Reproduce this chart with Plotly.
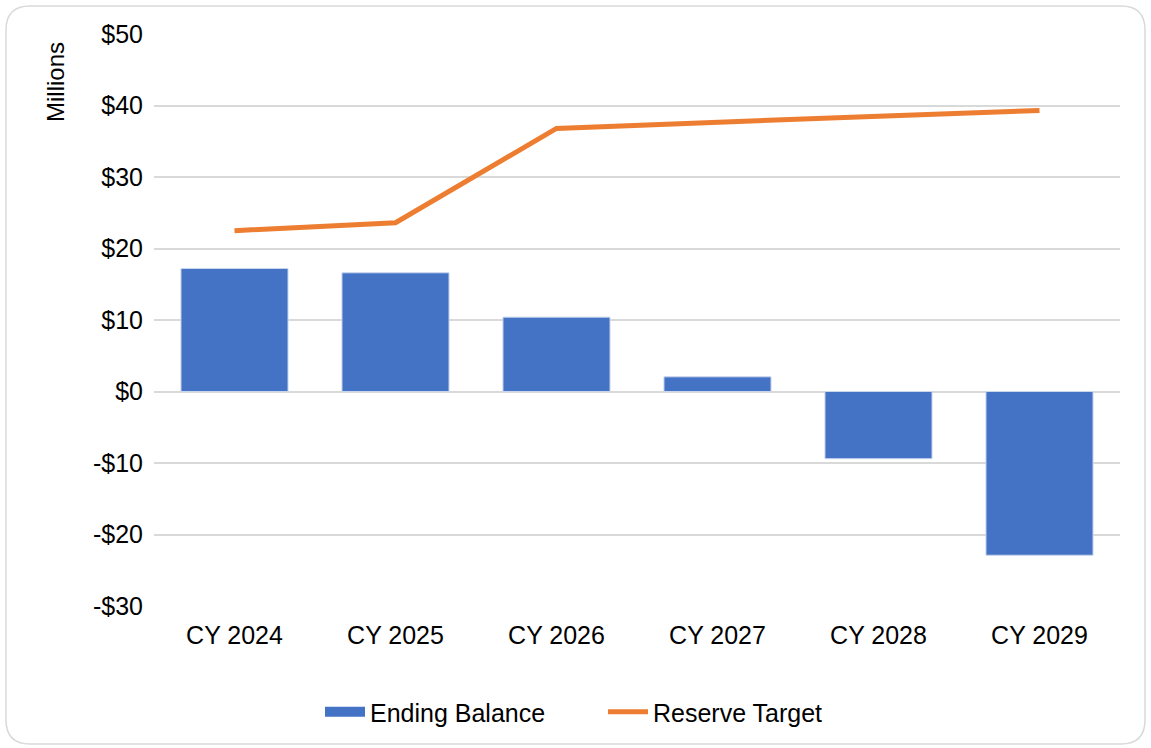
import plotly.graph_objects as go

years = ["CY 2024", "CY 2025", "CY 2026", "CY 2027", "CY 2028", "CY 2029"]
ending_balance = [17.2, 16.6, 10.4, 2.05, -9.4, -22.9]
reserve_target = [22.5, 23.6, 36.8, 37.7, 38.5, 39.3]
tick_vals = [50, 40, 30, 20, 10, 0, -10, -20, -30]
tick_text = ["$50", "$40", "$30", "$20", "$10", "$0", "-$10", "-$20", "-$30"]

W, H = 1151, 748
L, R, T, B = 154, 31, 34, 142
pw, ph = W - L - R, H - T - B

fig = go.Figure()
fig.add_trace(go.Bar(x=years, y=ending_balance, name="Ending Balance", showlegend=False,
                     marker=dict(color="#4472C4", line=dict(color="#C9D6EE", width=1))))
# legend stand-in: wide blue block like Excel's legend key
fig.add_trace(go.Scatter(x=[None], y=[None], name="Ending Balance", mode="lines",
                         line=dict(color="#4472C4", width=14)))
fig.add_trace(go.Scatter(x=years, y=reserve_target, name="Reserve Target", mode="lines",
                         line=dict(color="#ED7D31", width=5)))

# rounded chart border
x0, x1 = (6 - L) / pw, (1145 - L) / pw
y0, y1 = 1 - (744 - T) / ph, 1 - (6 - T) / ph
rx, ry = 24 / pw, 24 / ph
path = (f"M {x0+rx},{y1} L {x1-rx},{y1} Q {x1},{y1} {x1},{y1-ry} "
        f"L {x1},{y0+ry} Q {x1},{y0} {x1-rx},{y0} L {x0+rx},{y0} "
        f"Q {x0},{y0} {x0},{y0+ry} L {x0},{y1-ry} Q {x0},{y1} {x0+rx},{y1} Z")
fig.add_shape(type="path", path=path, xref="paper", yref="paper",
              line=dict(color="#D9D9D9", width=1.5), layer="below")

fig.add_annotation(text="Millions", textangle=-90, xref="paper", yref="paper",
                   x=(55 - L) / pw, y=1 - (40 - T) / ph, xanchor="center", yanchor="top",
                   showarrow=False, font=dict(size=24, color="#000000"))

fig.update_layout(
    width=W, height=H,
    margin=dict(l=L, r=R, t=T, b=B),
    paper_bgcolor="white", plot_bgcolor="white",
    font=dict(family="Liberation Sans, Arial, sans-serif", size=25, color="#000000"),
    bargap=0.335,
    showlegend=True,
    legend=dict(orientation="h", x=(320 - L) / pw, xanchor="left", y=1 - (712 - T) / ph,
                yanchor="middle", font=dict(size=25), itemwidth=40, entrywidth=228),
    xaxis=dict(showgrid=False, ticks="", showline=False, ticklabelstandoff=12),
    yaxis=dict(range=[-30, 50], tickvals=tick_vals, ticktext=tick_text,
               showgrid=True, gridcolor="#D9D9D9", gridwidth=1.5,
               zeroline=True, zerolinecolor="#D9D9D9", zerolinewidth=1.5,
               showline=False, ticks="", ticklabelstandoff=10),
)

fig.write_html("out.html", config={"displayModeBar": False},
               post_script="document.body.style.margin='0px';")
